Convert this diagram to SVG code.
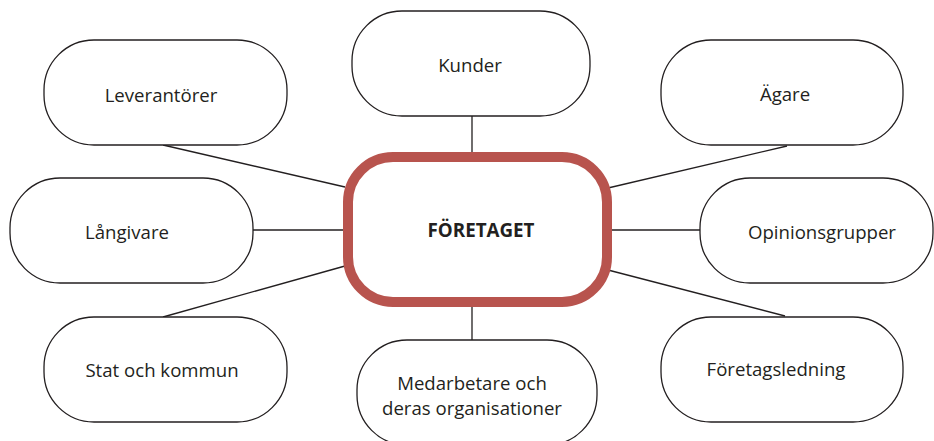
<svg xmlns="http://www.w3.org/2000/svg" width="934" height="441" viewBox="0 0 934 441">
<style>
.node{fill:#fff;stroke:#231f20;stroke-width:1.3}
.lbl{font-family:"Open Sans","Noto Sans",sans-serif;font-size:18.6px;fill:#231f20;text-anchor:middle;dominant-baseline:central}
.conn line{stroke:#231f20;stroke-width:1.3}
</style>
<rect width="934" height="441" fill="#fff"/>
<g class="conn">
<line x1="163" y1="145" x2="345" y2="187"/>
<line x1="472" y1="116" x2="472" y2="155"/>
<line x1="787" y1="146" x2="608" y2="188"/>
<line x1="253" y1="230" x2="346" y2="230"/>
<line x1="612" y1="230" x2="700" y2="230"/>
<line x1="163" y1="317" x2="345" y2="266"/>
<line x1="472" y1="305" x2="472" y2="340"/>
<line x1="608" y1="270" x2="785" y2="316"/>
</g>
<g id="leverantorer"><rect class="node" x="44" y="40" width="243" height="105" rx="50"/><text class="lbl" x="161" y="94">Leverantörer</text></g>
<g id="kunder"><rect class="node" x="352" y="11" width="238" height="105" rx="50"/><text class="lbl" x="470" y="64">Kunder</text></g>
<g id="agare"><rect class="node" x="661" y="40" width="242" height="105" rx="50"/><text class="lbl" x="785" y="93">Ägare</text></g>
<g id="langivare"><rect class="node" x="10" y="178" width="243" height="105" rx="50"/><text class="lbl" x="127" y="231">Långivare</text></g>
<g id="opinionsgrupper"><rect class="node" x="700" y="178" width="233" height="105" rx="50"/><text class="lbl" x="822" y="231">Opinionsgrupper</text></g>
<g id="stat"><rect class="node" x="44" y="317" width="243" height="105" rx="50"/><text class="lbl" x="162" y="369">Stat och kommun</text></g>
<g id="medarbetare"><rect class="node" x="357" y="340" width="240" height="105" rx="50"/><text class="lbl" x="472" y="382">Medarbetare och</text><text class="lbl" x="472" y="407">deras organisationer</text></g>
<g id="foretagsledning"><rect class="node" x="661" y="317" width="242" height="105" rx="50"/><text class="lbl" x="776" y="368">Företagsledning</text></g>
<g id="foretaget"><rect x="348" y="157" width="259" height="145" rx="45" fill="#fff" stroke="#b8544e" stroke-width="10"/><text class="lbl" x="481" y="230" style="font-weight:700;font-size:18.8px">FÖRETAGET</text></g>
</svg>
